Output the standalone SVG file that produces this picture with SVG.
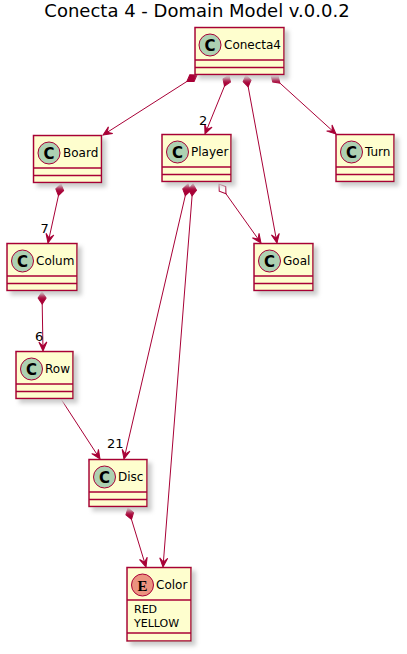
<svg xmlns="http://www.w3.org/2000/svg" width="407" height="654" viewBox="0 0 407 654">
<defs>
<filter id="sh" x="-20%" y="-20%" width="150%" height="150%">
<feGaussianBlur in="SourceAlpha" stdDeviation="2" result="b"/>
<feColorMatrix in="b" type="matrix" values="0 0 0 0 0.6  0 0 0 0 0.6  0 0 0 0 0.6  0 0 0 1 0" result="c"/>
<feOffset in="c" dx="4" dy="4" result="o"/>
<feBlend in="SourceGraphic" in2="o" mode="normal"/>
</filter>
<marker id="arr" markerUnits="userSpaceOnUse" markerWidth="20" markerHeight="20" refX="0" refY="0" orient="auto" overflow="visible">
<path d="M0,0 L-9,-4 L-5,0 L-9,4 Z" fill="#A80036" stroke="#A80036" stroke-width="1"/>
</marker>
<marker id="dia" markerUnits="userSpaceOnUse" markerWidth="20" markerHeight="20" refX="0" refY="0" orient="auto" overflow="visible">
<path d="M0,0 L6,-4 L12,0 L6,4 Z" fill="#A80036" stroke="#A80036" stroke-width="1"/>
</marker>
<marker id="odia" markerUnits="userSpaceOnUse" markerWidth="20" markerHeight="20" refX="0" refY="0" orient="auto" overflow="visible">
<path d="M0,0 L6,-4 L12,0 L6,4 Z" fill="#FFFFFF" stroke="#A80036" stroke-width="1"/>
</marker>
</defs>
<style>
.box{fill:#FEFECE;stroke:#A80036;stroke-width:1.5;filter:url(#sh)}
.sep{stroke:#A80036;stroke-width:1.5}
.ci{fill:#ADD1B2;stroke:#A80036;stroke-width:1}
.ei{fill:#EB937F;stroke:#A80036;stroke-width:1}
.cn{font-family:"DejaVu Sans",sans-serif;font-size:12px;fill:#000}
.at{font-family:"DejaVu Sans",sans-serif;font-size:11px;fill:#000}
.ic{font-family:"DejaVu Sans",sans-serif;font-size:15px;font-weight:bold;text-anchor:middle;fill:#000}
.ie{font-family:"Liberation Serif",serif;font-size:15px;font-weight:bold;text-anchor:middle;fill:#000}
.ln{stroke:#A80036;stroke-width:1;fill:none}
.lb{font-family:"DejaVu Sans",sans-serif;font-size:13px;fill:#000}
.tt{font-family:"DejaVu Sans",sans-serif;font-size:18px;fill:#000;text-anchor:middle}
</style>
<rect width="407" height="654" fill="#FFFFFF"/>
<text class="tt" x="197" y="17">Conecta 4 - Domain Model v.0.0.2</text>

<g id="connectors">
<path class="ln" d="M197,75 L103,135" marker-start="url(#dia)" marker-end="url(#arr)"/>
<path class="ln" d="M229,75 L205,134" marker-start="url(#dia)" marker-end="url(#arr)"/>
<path class="ln" d="M246,75 L277,243" marker-start="url(#dia)" marker-end="url(#arr)"/>
<path class="ln" d="M271,75 L336,134" marker-start="url(#dia)" marker-end="url(#arr)"/>
<path class="ln" d="M61,184 L48,243" marker-start="url(#dia)" marker-end="url(#arr)"/>
<path class="ln" d="M42,292 L43,351" marker-start="url(#dia)" marker-end="url(#arr)"/>
<path class="ln" d="M61,399 L100,459" marker-end="url(#arr)"/>
<path class="ln" d="M188,184 L124,459" marker-start="url(#dia)" marker-end="url(#arr)"/>
<path class="ln" d="M193,184 L163,567" marker-start="url(#dia)" marker-end="url(#arr)"/>
<path class="ln" d="M219,184 L261,243" marker-start="url(#odia)" marker-end="url(#arr)"/>
<path class="ln" d="M128,508 L146,567" marker-start="url(#dia)" marker-end="url(#arr)"/>
<text class="lb" x="199" y="125">2</text>
<text class="lb" x="40.5" y="233">7</text>
<text class="lb" x="35" y="341">6</text>
<text class="lb" x="107" y="448">21</text>
</g>

<g id="Conecta4">
<rect class="box" x="195" y="27.5" width="89" height="47"/>
<line class="sep" x1="195" y1="60" x2="284" y2="60"/>
<line class="sep" x1="195" y1="67.5" x2="284" y2="67.5"/>
<circle class="ci" cx="210" cy="45" r="11"/>
<text class="ic" x="210" y="50.5">C</text>
<text class="cn" x="224" y="48.5">Conecta4</text>
</g>

<g id="Board">
<rect class="box" x="33.5" y="135.5" width="68" height="47"/>
<line class="sep" x1="33.5" y1="168" x2="101.5" y2="168"/>
<line class="sep" x1="33.5" y1="175.5" x2="101.5" y2="175.5"/>
<circle class="ci" cx="49" cy="153" r="11"/>
<text class="ic" x="49" y="158.5">C</text>
<text class="cn" x="63" y="156.5">Board</text>
</g>

<g id="Player">
<rect class="box" x="162" y="134.5" width="69" height="47"/>
<line class="sep" x1="162" y1="167" x2="231" y2="167"/>
<line class="sep" x1="162" y1="174.5" x2="231" y2="174.5"/>
<circle class="ci" cx="177.5" cy="152" r="11"/>
<text class="ic" x="177.5" y="157.5">C</text>
<text class="cn" x="191" y="155.5">Player</text>
</g>

<g id="Turn">
<rect class="box" x="336" y="134.5" width="58" height="47"/>
<line class="sep" x1="336" y1="167" x2="394" y2="167"/>
<line class="sep" x1="336" y1="174.5" x2="394" y2="174.5"/>
<circle class="ci" cx="351.5" cy="152" r="11"/>
<text class="ic" x="351.5" y="157.5">C</text>
<text class="cn" x="365" y="155.5">Turn</text>
</g>

<g id="Colum">
<rect class="box" x="7" y="243.5" width="70" height="47"/>
<line class="sep" x1="7" y1="276" x2="77" y2="276"/>
<line class="sep" x1="7" y1="283.5" x2="77" y2="283.5"/>
<circle class="ci" cx="22.5" cy="261" r="11"/>
<text class="ic" x="22.5" y="266.5">C</text>
<text class="cn" x="36" y="264.5">Colum</text>
</g>

<g id="Goal">
<rect class="box" x="254" y="243.5" width="59" height="47"/>
<line class="sep" x1="254" y1="276" x2="313" y2="276"/>
<line class="sep" x1="254" y1="283.5" x2="313" y2="283.5"/>
<circle class="ci" cx="269.5" cy="261" r="11"/>
<text class="ic" x="269.5" y="266.5">C</text>
<text class="cn" x="283" y="264.5">Goal</text>
</g>

<g id="Row">
<rect class="box" x="16" y="351.5" width="57" height="47"/>
<line class="sep" x1="16" y1="384" x2="73" y2="384"/>
<line class="sep" x1="16" y1="391.5" x2="73" y2="391.5"/>
<circle class="ci" cx="31.5" cy="369" r="11"/>
<text class="ic" x="31.5" y="374.5">C</text>
<text class="cn" x="45" y="372.5">Row</text>
</g>

<g id="Disc">
<rect class="box" x="89" y="459.5" width="58" height="47"/>
<line class="sep" x1="89" y1="492" x2="147" y2="492"/>
<line class="sep" x1="89" y1="499.5" x2="147" y2="499.5"/>
<circle class="ci" cx="104.5" cy="477" r="11"/>
<text class="ic" x="104.5" y="482.5">C</text>
<text class="cn" x="118" y="480.5">Disc</text>
</g>

<g id="Color">
<rect class="box" x="127" y="567.5" width="64" height="73.5"/>
<line class="sep" x1="127" y1="600" x2="191" y2="600"/>
<line class="sep" x1="127" y1="633" x2="191" y2="633"/>
<circle class="ei" cx="142.5" cy="585" r="11"/>
<text class="ie" x="142.5" y="590.5">E</text>
<text class="cn" x="156" y="588.5">Color</text>
<text class="at" x="134" y="613">RED</text>
<text class="at" x="134" y="627">YELLOW</text>
</g>
</svg>
